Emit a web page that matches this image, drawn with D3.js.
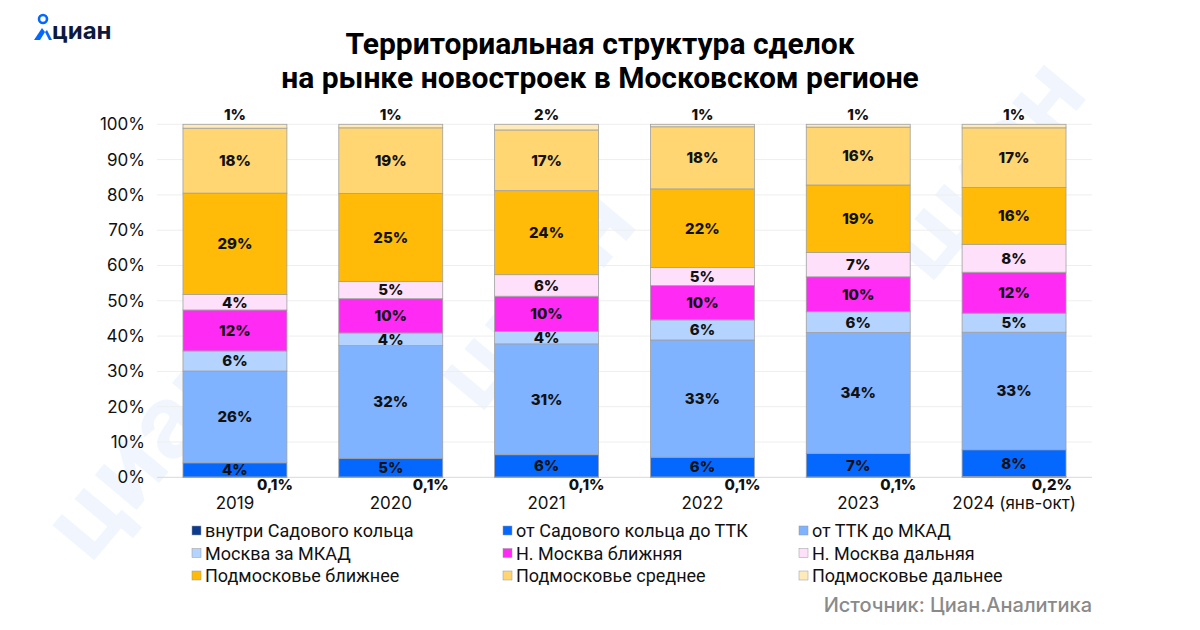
<!DOCTYPE html>
<html>
<head>
<meta charset="utf-8">
<script src="https://cdn.jsdelivr.net/npm/d3@7"></script>
<style>
  body { margin: 0; background: #fff; }
  svg { display: block; }
</style>
</head>
<body>
<svg width="1200" height="630"></svg>
<script>
// годы
var years = ["2019", "2020", "2021", "2022", "2023", "2024 (янв-окт)"];

// зоны, снизу вверх
var zones = ["внутри Садового кольца", "от Садового кольца до ТТК", "от ТТК до МКАД",
  "Москва за МКАД", "Н. Москва ближняя", "Н. Москва дальняя",
  "Подмосковье ближнее", "Подмосковье среднее", "Подмосковье дальнее"];

var colors = ["#0b3a8f", "#0468ff", "#7fb2ff", "#b4d3ff", "#ff2bf4", "#ffe0fb",
  "#ffbb08", "#ffd671", "#ffebba"];

// доли по годам (%), по порядку зон
var v2019 = [0.1, 4.0, 26.0, 5.7, 11.6, 4.4, 28.7, 18.4, 1.1];
var v2020 = [0.1, 5.3, 31.9, 3.6, 9.7, 4.9, 24.9, 18.6, 1.0];
var v2021 = [0.1, 6.3, 31.4, 3.5, 10.0, 6.1, 23.8, 17.2, 1.6];
var v2022 = [0.1, 5.6, 33.2, 5.7, 9.7, 5.1, 22.3, 17.6, 0.7];
var v2023 = [0.1, 6.7, 34.2, 5.9, 9.9, 6.9, 19.1, 16.4, 0.8];
var v2024 = [0.2, 7.6, 33.3, 5.4, 11.6, 7.9, 16.1, 16.9, 1.0];

var yTicks = [0, 10, 20, 30, 40, 50, 60, 70, 80, 90, 100];

var allValues = [v2019, v2020, v2021, v2022, v2023, v2024];
var rows = years.map(function(y, i) {
  var r = {year: y};
  zones.forEach(function(z, j) { r[z] = allValues[i][j]; });
  return r;
});

var svg = d3.select("svg");
var labelFont = "Inter, 'Open Sans', sans-serif";
var narrowFont = "'Liberation Sans Narrow', 'Roboto', sans-serif";

// водяные знаки
var wm = svg.append("g").attr("fill", "#f1f6fe").attr("font-family", "Inter, sans-serif")
  .attr("font-weight", 700).attr("font-size", 100);
[[170, 470], [560, 320], [1010, 190]].forEach(function(p) {
  wm.append("text").attr("transform", "translate(" + p[0] + "," + p[1] + ") rotate(-50)")
    .attr("text-anchor", "middle").text("циан");
});

// логотип
var logo = svg.append("g").attr("transform", "translate(32,14)");
logo.append("circle").attr("cx", 11).attr("cy", 5).attr("r", 4)
  .attr("fill", "none").attr("stroke", "#0468ff").attr("stroke-width", 2.6);
logo.append("path").attr("d", "M2,26 L10,14 L13,18 L8,26 Z").attr("fill", "#0468ff");
logo.append("path").attr("d", "M13,18 L17,26 L20,26 L15,16 Z").attr("fill", "#0468ff");
logo.append("text").attr("x", 20).attr("y", 25).attr("font-family", "Inter, sans-serif")
  .attr("font-weight", 700).attr("font-size", 24).attr("fill", "#0c1a3e").text("циан");

// заголовок
var title = svg.append("text").attr("text-anchor", "middle").attr("font-family", narrowFont)
  .attr("font-weight", 700).attr("font-size", 30).attr("fill", "#000");
title.append("tspan").attr("x", 600).attr("y", 54).text("Территориальная структура сделок");
title.append("tspan").attr("x", 600).attr("y", 88).text("на рынке новостроек в Московском регионе");

var x = d3.scaleBand().domain(years).range([157, 1092]).paddingInner(0.333).paddingOuter(0.1667);
var y = d3.scaleLinear().domain([0, 100]).range([477.3, 124.3]);

// сетка
svg.append("g").selectAll("line").data(yTicks).enter().append("line")
  .attr("x1", 157).attr("x2", 1092)
  .attr("y1", function(d) { return y(d); }).attr("y2", function(d) { return y(d); })
  .attr("stroke", function(d) { return d === 0 ? "#d9d9d9" : "#eeeeee"; }).attr("stroke-width", 1);

// ось Y
var yAxis = svg.append("g").attr("transform", "translate(148,0)")
  .call(d3.axisLeft(y).tickValues(yTicks).tickFormat(function(d) { return d + "%"; }).tickSize(0));
yAxis.select(".domain").remove();
yAxis.selectAll("text").attr("font-family", labelFont).attr("font-size", 17).attr("fill", "#111");

// ось X
var xAxis = svg.append("g").attr("transform", "translate(0,494)")
  .call(d3.axisBottom(x).tickSize(0));
xAxis.select(".domain").remove();
xAxis.selectAll("text").attr("font-family", labelFont).attr("font-size", 17).attr("fill", "#111");

var stack = d3.stack().keys(zones);
var series = stack(rows);

var layers = svg.append("g").selectAll("g").data(series).enter().append("g")
  .attr("fill", function(d, i) { return colors[i]; });

layers.selectAll("rect").data(function(d) { return d; }).enter().append("rect")
  .attr("x", function(d) { return x(d.data.year); })
  .attr("y", function(d) { return y(d[1]); })
  .attr("width", x.bandwidth())
  .attr("height", function(d) { return y(d[0]) - y(d[1]); })
  .attr("stroke", "#a0a0a0").attr("stroke-width", 0.8);

// подписи
var labels = svg.append("g").attr("font-family", labelFont).attr("font-weight", 800)
  .attr("font-size", 15).attr("fill", "#111");
series.forEach(function(s, i) {
  s.forEach(function(d) {
    var v = d[1] - d[0];
    var cx = x(d.data.year) + x.bandwidth() / 2;
    if (i === 0) {
      labels.append("text").attr("x", x(d.data.year) + x.bandwidth() + 6).attr("y", 490)
        .attr("text-anchor", "end").text(v.toFixed(1).replace(".", ",") + "%");
    } else if (i === zones.length - 1) {
      labels.append("text").attr("x", cx).attr("y", y(d[1]) - 4)
        .attr("text-anchor", "middle").text(Math.round(v) + "%");
    } else {
      labels.append("text").attr("x", cx).attr("y", (y(d[0]) + y(d[1])) / 2)
        .attr("dy", "0.36em").attr("text-anchor", "middle").text(Math.round(v) + "%");
    }
  });
});

// легенда
var legX = [192, 503, 799];
var legend = svg.append("g").attr("font-family", narrowFont).attr("font-size", 18).attr("fill", "#111");
var item = legend.selectAll("g").data(zones).enter().append("g")
  .attr("transform", function(d, i) {
    return "translate(" + legX[i % 3] + "," + (531 + Math.floor(i / 3) * 22.5) + ")";
  });
item.append("rect").attr("x", 0).attr("y", -5).attr("width", 9).attr("height", 9)
  .attr("fill", function(d, i) { return colors[i]; }).attr("stroke", "#999").attr("stroke-width", 0.5);
item.append("text").attr("x", 13).attr("dy", "0.35em").text(function(d) { return d; });

// источник
svg.append("text").attr("x", 1092).attr("y", 612).attr("text-anchor", "end")
  .attr("font-family", labelFont).attr("font-weight", 500).attr("font-size", 20).attr("fill", "#8a8a8a")
  .text("Источник: Циан.Аналитика");
</script>
</body>
</html>
